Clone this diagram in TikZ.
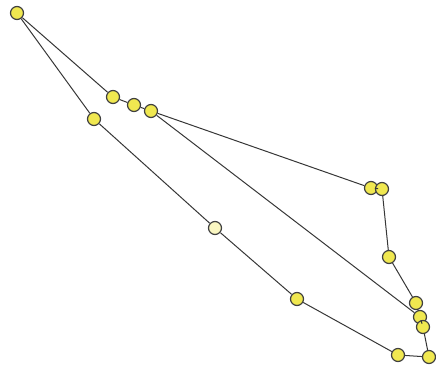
\documentclass[tikz,border=0pt]{standalone}
\usepackage{tikz}
\definecolor{dotyellow}{RGB}{240,232,80}
\definecolor{lineink}{RGB}{55,55,55}
\tikzset{
    vtx/.style={circle, draw=black!75, line width=1.2pt, fill=dotyellow, minimum size=13pt, inner sep=0pt},
    edge/.style={lineink, line width=1pt}
}
\begin{document}
\begin{tikzpicture}[x=1pt, y=-1pt]
    % Frame
    \useasboundingbox (0,0) rectangle (436,370);

    % Upper chain
    \node[vtx] (a) at (17,13) {};
    \node[vtx] (b) at (113,97) {};
    \node[vtx] (c) at (134,105) {};
    \node[vtx] (d) at (151,111) {};
    \node[vtx] (e) at (94,119) {};

    % Right side
    \node[vtx] (f) at (371,188) {};
    \node[vtx] (g) at (382,189) {};
    \node[vtx] (h) at (389,257) {};
    \node[vtx] (i) at (416,303) {};
    \node[vtx] (j) at (420,317) {};
    \node[vtx] (k) at (423,327) {};
    \node[vtx] (l) at (398,355) {};
    \node[vtx] (m) at (429,357) {};

    % Lower chain
    \node[vtx, fill=dotyellow!35] (n) at (215,228) {};
    \node[vtx] (o) at (297,299) {};

    % Edges
    \draw[edge] (a) -- (b) -- (c) -- (d) -- (f) -- (g) -- (h) -- (i) -- (j) -- (k) -- (m) -- (l) -- (o) -- (n) -- (e) -- (a);
    \draw[edge] (d) -- (j);
\end{tikzpicture}
\end{document}
